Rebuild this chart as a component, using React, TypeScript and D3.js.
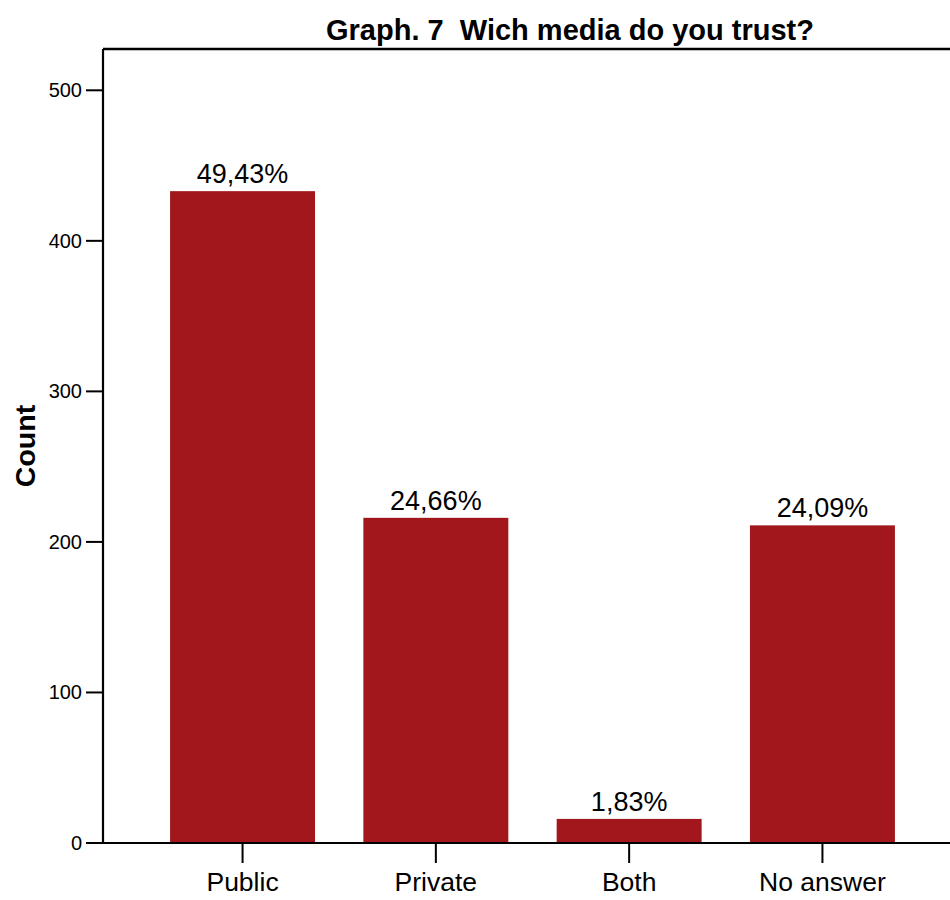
import React from "react";
import * as d3 from "d3";

const categories = ["Public", "Private", "Both", "No answer"];
const counts = [433, 216, 16, 211];
const percentLabels = ["49,43%", "24,66%", "1,83%", "24,09%"];
const yTicks = [0, 100, 200, 300, 400, 500];
const title = "Graph. 7  Wich media do you trust?";
const yTitle = "Count";

const W = 950;
const H = 900;
const left = 103;
const top = 49;
const bottom = 843;
const right = 962;
const barColor = "#a1171c";
const font = "'Liberation Sans', Arial, sans-serif";

export default function App() {
  const x = d3
    .scaleBand<string>()
    .domain(categories)
    .range([left, right])
    .paddingInner(0.25)
    .paddingOuter(0.347);
  const y = d3.scaleLinear().domain([0, 500]).range([bottom, 90.3]);

  return (
    <svg
      width={W}
      height={H}
      style={{ position: "absolute", left: 0, top: 0, background: "#fff" }}
    >
      <rect x={0} y={0} width={W} height={H} fill="#fff" />
      <text
        x={570}
        y={40}
        textAnchor="middle"
        fontFamily={font}
        fontWeight="bold"
        fontSize={29}
        fill="#000"
        style={{ whiteSpace: "pre" }}
      >
        {title}
      </text>
      {categories.map((c, i) => (
        <g key={c}>
          <rect
            x={x(c)}
            y={y(counts[i])}
            width={x.bandwidth()}
            height={bottom - y(counts[i])}
            fill={barColor}
          />
          <text
            x={(x(c) as number) + x.bandwidth() / 2}
            y={y(counts[i]) - 8}
            textAnchor="middle"
            fontFamily={font}
            fontSize={27}
            fill="#000"
          >
            {percentLabels[i]}
          </text>
          <line
            x1={(x(c) as number) + x.bandwidth() / 2}
            x2={(x(c) as number) + x.bandwidth() / 2}
            y1={bottom}
            y2={bottom + 20}
            stroke="#000"
            strokeWidth={2}
          />
          <text
            x={(x(c) as number) + x.bandwidth() / 2}
            y={891}
            textAnchor="middle"
            fontFamily={font}
            fontSize={26.5}
            fill="#000"
          >
            {c}
          </text>
        </g>
      ))}
      {yTicks.map((t) => (
        <g key={t}>
          <line x1={86} x2={left} y1={y(t)} y2={y(t)} stroke="#000" strokeWidth={2} />
          <text
            x={82}
            y={y(t)}
            dy="0.35em"
            textAnchor="end"
            fontFamily={font}
            fontSize={20}
            fill="#000"
          >
            {t}
          </text>
        </g>
      ))}
      <line x1={left} x2={right} y1={top} y2={top} stroke="#000" strokeWidth={2.6} />
      <line x1={left} x2={left} y1={top} y2={bottom} stroke="#000" strokeWidth={2.2} />
      <line x1={left} x2={right} y1={bottom} y2={bottom} stroke="#000" strokeWidth={2.2} />
      <line x1={right} x2={right} y1={top} y2={bottom} stroke="#000" strokeWidth={2.2} />
      <text
        transform={`translate(35,446) rotate(-90)`}
        textAnchor="middle"
        fontFamily={font}
        fontWeight="bold"
        fontSize={28.5}
        fill="#000"
      >
        {yTitle}
      </text>
    </svg>
  );
}
